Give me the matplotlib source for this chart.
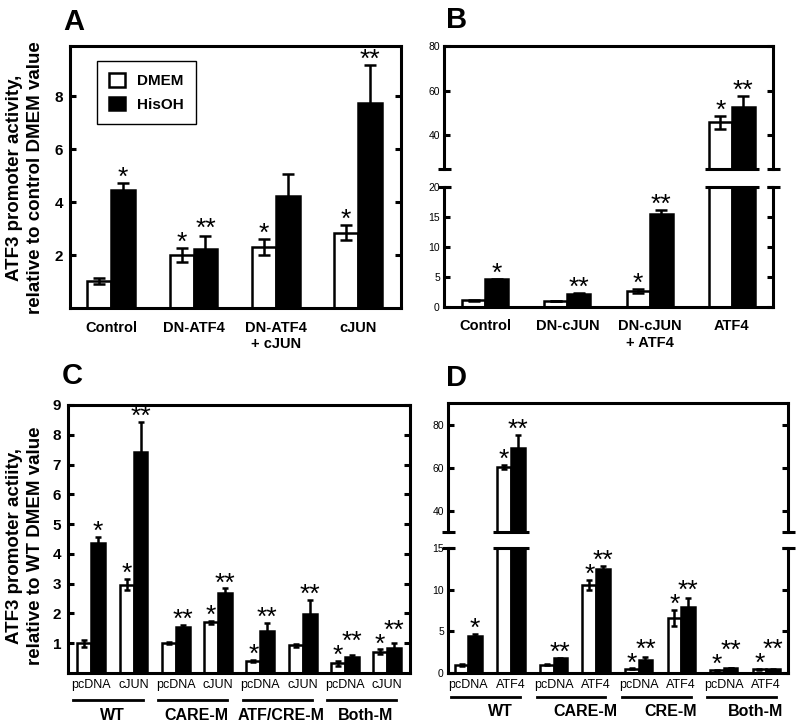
import numpy as np
import matplotlib
matplotlib.use('Agg')
from matplotlib import pyplot as plt
from matplotlib import transforms
from matplotlib.patches import Patch

plt.rcParams['font.family'] = ['Liberation Sans', 'DejaVu Sans']

W, H = 796, 726

# panel A
a_groups = ['Control', 'DN-ATF4', 'DN-ATF4\n+ cJUN', 'cJUN']
a_dmem = [1.03, 2.0, 2.3, 2.85]
a_dmem_err = [0.12, 0.28, 0.3, 0.28]
a_his = [4.45, 2.22, 4.22, 7.75]
a_his_err = [0.28, 0.5, 0.85, 1.45]
a_dmem_star = ['', '*', '*', '*']
a_his_star = ['*', '**', '', '**']

# panel B
b_groups = ['Control', 'DN-cJUN', 'DN-cJUN\n+ ATF4', 'ATF4']
b_dmem = [1.1, 1.0, 2.7, 45.8]
b_dmem_err = [0.1, 0.05, 0.35, 3.0]
b_his = [4.6, 2.2, 15.5, 52.8]
b_his_err = [0.15, 0.1, 0.6, 5.0]
b_dmem_star = ['', '', '*', '*']
b_his_star = ['*', '**', '**', '**']

# panel C
c_labels = ['pcDNA', 'cJUN'] * 4
c_mutants = ['WT', 'CARE-M', 'ATF/CRE-M', 'Both-M']
c_dmem = [1.0, 2.97, 1.0, 1.7, 0.4, 0.93, 0.32, 0.72]
c_dmem_err = [0.12, 0.18, 0.04, 0.06, 0.04, 0.05, 0.08, 0.07]
c_his = [4.37, 7.42, 1.55, 2.68, 1.42, 1.97, 0.53, 0.85]
c_his_err = [0.2, 1.0, 0.06, 0.16, 0.25, 0.48, 0.08, 0.17]
c_dmem_star = ['', '*', '', '*', '*', '', '*', '*']
c_his_star = ['*', '**', '**', '**', '**', '**', '**', '**']

# panel D
d_labels = ['pcDNA', 'ATF4'] * 4
d_mutants = ['WT', 'CARE-M', 'CRE-M', 'Both-M']
d_dmem = [1.0, 60.5, 1.0, 10.6, 0.5, 6.6, 0.35, 0.45]
d_dmem_err = [0.1, 1.0, 0.05, 0.6, 0.05, 1.0, 0.05, 0.05]
d_his = [4.5, 69.5, 1.75, 12.45, 1.6, 7.9, 0.6, 0.45]
d_his_err = [0.15, 6.0, 0.05, 0.45, 0.3, 1.05, 0.05, 0.05]
d_dmem_star = ['', '*', '', '*', '*', '*', '*', '*']
d_his_star = ['*', '**', '**', '**', '**', '**', '**', '**']

SPINE = 2.2
STAR_FS = 19
fig = plt.figure(figsize=(W / 100, H / 100), dpi=100)


def px_axes(l, t, r, b):
    return fig.add_axes([l / W, 1 - b / H, (r - l) / W, (b - t) / H])


def draw_pairs(ax, x, w, dmem, dmem_err, his, his_err, cap, lw=1.8):
    ax.bar(x - w / 2, dmem, w, color='white', edgecolor='black', linewidth=lw, zorder=2)
    ax.bar(x + w / 2, his, w, color='black', edgecolor='black', linewidth=lw, zorder=2)
    ax.errorbar(x - w / 2, dmem, yerr=dmem_err, fmt='none', ecolor='black',
                elinewidth=lw, capsize=cap, capthick=lw, zorder=3)
    ax.errorbar(x + w / 2, his, yerr=his_err, fmt='none', ecolor='black',
                elinewidth=lw, capsize=cap, capthick=lw, zorder=3)


def add_stars(ax, x, w, dmem, dmem_err, dmem_star, his, his_err, his_star):
    # call after the limits are set: the HisOH stars get lifted above a close DMEM star
    for xi, v1, e1, s1, v2, e2, s2 in zip(x, dmem, dmem_err, dmem_star, his, his_err, his_star):
        y1 = ax.transData.transform((0, v1 + e1))[1]
        y2 = ax.transData.transform((0, v2 + e2))[1]
        if s1:
            ax.annotate(s1, (xi - w / 2, v1 + e1), xytext=(0, -5), textcoords='offset points',
                        ha='center', va='bottom', fontsize=STAR_FS)
        if s2:
            lift = 0
            if s1 and y2 - y1 < 14:
                lift = (14 - (y2 - y1)) * 0.72
            ax.annotate(s2, (xi + w / 2, v2 + e2), xytext=(0, -5 + lift),
                        textcoords='offset points', ha='center', va='bottom',
                        fontsize=STAR_FS)


def style(ax, labelsize, bold):
    for s in ax.spines.values():
        s.set_linewidth(SPINE)
    ax.tick_params(axis='y', direction='in', length=4, width=SPINE, left=True, right=True,
                   labelsize=labelsize, pad=5)
    ax.tick_params(axis='x', length=0)
    if bold:
        for t in ax.get_yticklabels():
            t.set_fontweight('bold')


def break_marks(ax_t, ax_b, x, w, dmem, his, ext):
    for ax, y in ((ax_t, 0), (ax_b, 1)):
        d = 6.5 / (ax.get_position().width * W)
        for xs in (0, 1):
            ax.plot([xs - d, xs + d], [y, y], transform=ax.transAxes, color='black',
                    lw=SPINE, clip_on=False, solid_capstyle='butt')
    lo_top = ax_b.get_ylim()[1]
    hi_bot = ax_t.get_ylim()[0]
    for xi, v1, v2 in zip(x, dmem, his):
        if min(v1, v2) > lo_top:
            ax_b.plot([xi - w - ext, xi + w + ext], [lo_top, lo_top], color='black',
                      lw=SPINE, clip_on=False, solid_capstyle='butt', zorder=4)
            ax_t.plot([xi - w - ext, xi + w + ext], [hi_bot, hi_bot], color='black',
                      lw=SPINE, clip_on=False, solid_capstyle='butt', zorder=4)


# ---------------- A ----------------
axA = px_axes(70, 46, 401, 308)
xa = np.arange(len(a_groups))
wa = 0.29
draw_pairs(axA, xa, wa, a_dmem, a_dmem_err, a_his, a_his_err, cap=4.5)
axA.set_xlim(-0.5, 3.52)
axA.set_ylim(0, 9.9)
add_stars(axA, xa, wa, a_dmem, a_dmem_err, a_dmem_star, a_his, a_his_err, a_his_star)
axA.set_yticks([2, 4, 6, 8])
axA.set_xticks(xa)
axA.set_xticklabels(a_groups, fontsize=10.5, fontweight='bold')
axA.tick_params(axis='x', pad=9)
style(axA, 11, True)
axA.legend(handles=[Patch(facecolor='white', edgecolor='black', lw=1.8, label='DMEM'),
                    Patch(facecolor='black', edgecolor='black', lw=1.8, label='HisOH')],
           loc='upper left', bbox_to_anchor=(0.082, 0.943), borderaxespad=0,
           prop={'weight': 'bold', 'size': 11}, handlelength=1.0, handleheight=1.0,
           handletextpad=0.8, labelspacing=0.55, borderpad=0.8, fancybox=False,
           edgecolor='black', framealpha=1).get_frame().set_linewidth(1.0)
fig.text(25 / W, 1 - 178 / H, 'ATF3 promoter activity,\nrelative to control DMEM value',
         rotation=90, ha='center', va='center', fontsize=13.5, fontweight='bold',
         linespacing=1.25)

# ---------------- B ----------------
axBt = px_axes(444, 46, 773, 169)
axBb = px_axes(444, 187, 773, 307)
xb = np.arange(len(b_groups))
wb = 0.28
axBt.set_ylim(25, 80)
axBb.set_ylim(0, 20)
for ax in (axBt, axBb):
    draw_pairs(ax, xb, wb, b_dmem, b_dmem_err, b_his, b_his_err, cap=4.5)
    ax.set_xlim(-0.5, 3.5)
    add_stars(ax, xb, wb, b_dmem, b_dmem_err, b_dmem_star, b_his, b_his_err, b_his_star)
axBt.set_yticks([40, 60, 80])
axBb.set_yticks([0, 5, 10, 15, 20])
for ax in (axBt, axBb):
    style(ax, 7.5, False)
    ax.tick_params(axis='y', pad=3)
axBt.spines['bottom'].set_visible(False)
axBb.spines['top'].set_visible(False)
axBt.set_xticks([])
axBb.set_xticks(xb)
axBb.set_xticklabels(b_groups, fontsize=10.5, fontweight='bold')
axBb.tick_params(axis='x', pad=9)
break_marks(axBt, axBb, xb, wb, b_dmem, b_his, 0.05)

# ---------------- C ----------------
axC = px_axes(68, 405, 410, 673)
xc = np.arange(len(c_labels))
wc = 0.33
draw_pairs(axC, xc, wc, c_dmem, c_dmem_err, c_his, c_his_err, cap=2.5)
axC.set_xlim(-0.55, 7.54)
axC.set_ylim(0, 9)
add_stars(axC, xc, wc, c_dmem, c_dmem_err, c_dmem_star, c_his, c_his_err, c_his_star)
axC.set_yticks(range(1, 10))
axC.set_xticks(xc)
axC.set_xticklabels(c_labels, fontsize=9)
axC.tick_params(axis='x', pad=4)
style(axC, 11, True)
trC = transforms.blended_transform_factory(axC.transData, fig.transFigure)
for i, name in enumerate(c_mutants):
    c = 2 * i + 0.5
    axC.plot([c - 0.92, c + 0.72], [1 - 700 / H] * 2, transform=trC, color='black',
             lw=2, clip_on=False)
    axC.text(c, 1 - 715 / H, name, transform=trC, ha='center', va='center',
             fontsize=11.5, fontweight='bold')
fig.text(25 / W, 1 - 546 / H, 'ATF3 promoter actiity,\nrelative to WT DMEM value',
         rotation=90, ha='center', va='center', fontsize=13.5, fontweight='bold',
         linespacing=1.25)

# ---------------- D ----------------
axDt = px_axes(448, 403, 788, 532)
axDb = px_axes(448, 548, 788, 673)
xd = np.arange(len(d_labels))
wd = 0.32
axDt.set_ylim(30, 90.5)
axDb.set_ylim(0, 15)
for ax in (axDt, axDb):
    draw_pairs(ax, xd, wd, d_dmem, d_dmem_err, d_his, d_his_err, cap=2.5)
    ax.set_xlim(-0.48, 7.51)
    add_stars(ax, xd, wd, d_dmem, d_dmem_err, d_dmem_star, d_his, d_his_err, d_his_star)
axDt.set_yticks([40, 60, 80])
axDb.set_yticks([0, 5, 10, 15])
for ax in (axDt, axDb):
    style(ax, 7.5, False)
    ax.tick_params(axis='y', pad=3)
axDt.spines['bottom'].set_visible(False)
axDb.spines['top'].set_visible(False)
axDt.set_xticks([])
axDb.set_xticks(xd)
axDb.set_xticklabels(d_labels, fontsize=9)
axDb.tick_params(axis='x', pad=4)
break_marks(axDt, axDb, xd, wd, d_dmem, d_his, 0.1)
trD = transforms.blended_transform_factory(axDb.transData, fig.transFigure)
for i, name in enumerate(d_mutants):
    c = 2 * i + 0.5
    axDb.plot([c - 0.9, c + 0.72], [1 - 697 / H] * 2, transform=trD, color='black',
              lw=2, clip_on=False)
    axDb.text(c + 0.25, 1 - 712 / H, name, transform=trD, ha='center', va='center',
              fontsize=11.5, fontweight='bold')

# panel letters
for lab, xp, yp in (('A', 63, 8), ('B', 446, 6), ('C', 62, 362), ('D', 446, 364)):
    fig.text(xp / W, 1 - yp / H, lab, fontsize=21, fontweight='bold', ha='left', va='top')

fig.savefig('out.png', dpi=100)
